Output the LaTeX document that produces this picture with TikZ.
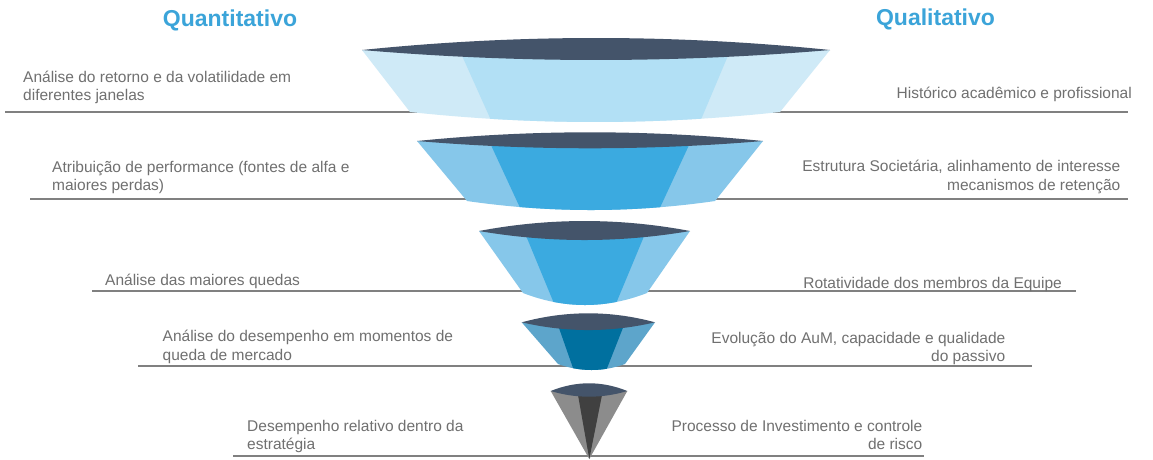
\documentclass[tikz,border=0pt]{standalone}
\usepackage{fontspec}
\setmainfont{Liberation Sans}
\definecolor{lensc}{HTML}{44546A}
\definecolor{fa}{HTML}{CFEAF7}
\definecolor{fac}{HTML}{B2E0F5}
\definecolor{fb}{HTML}{86C7EA}
\definecolor{fbc}{HTML}{3BAAE0}
\definecolor{fd}{HTML}{5DA5CB}
\definecolor{fdc}{HTML}{00709F}
\definecolor{fe}{HTML}{8C8C8C}
\definecolor{fec}{HTML}{404040}
\definecolor{titlec}{RGB}{59,164,217}
\definecolor{txtc}{HTML}{707070}
\definecolor{rulec}{HTML}{808080}
\begin{document}
\begin{tikzpicture}[x=1pt,y=-1pt,
  ttl/.style={font=\fontsize{23}{27}\selectfont\bfseries, text=titlec, inner sep=0pt},
  lbl/.style={font=\fontsize{15.5}{18.5}\selectfont, text=txtc, inner sep=0pt},
  lblL/.style={lbl, anchor=base west, align=left},
  lblR/.style={lbl, anchor=base east, align=right},
  rule/.style={draw=rulec, line width=1.3pt},
  lens/.style={fill=lensc}]
\fill[white] (0,0) rectangle (1153,459);
\useasboundingbox (0,0) rectangle (1153,459);

% titles
\node[ttl, anchor=base] (tq) at (230,26) {Quantitativo};
\node[ttl, anchor=base] (tl) at (935.5,25) {Qualitativo};

% rules
\coordinate (r1a) at (5,112);   \coordinate (r1b) at (1128,112);
\coordinate (r2a) at (30,199);  \coordinate (r2b) at (1128,199);
\coordinate (r3a) at (92,291);  \coordinate (r3b) at (1076,291);
\coordinate (r4a) at (138,366); \coordinate (r4b) at (1032,366);
\coordinate (r5a) at (233,456); \coordinate (r5b) at (924,456);
\draw[rule] (r1a) -- (r1b);
\draw[rule] (r2a) -- (r2b);
\draw[rule] (r3a) -- (r3b);
\draw[rule] (r4a) -- (r4b);
\draw[rule] (r5a) -- (r5b);

% labels left (anchor = baseline of the last line)
\node[lblL] (q1) at (23,100.5) {Análise do retorno e da volatilidade em\\diferentes janelas};
\node[lblL] (q2) at (52,190.5) {Atribuição de performance (fontes de alfa e\\maiores perdas)};
\node[lblL] (q3) at (105,285.5) {Análise das maiores quedas};
\node[lblL] (q4) at (162.5,360) {Análise do desempenho em momentos de\\queda de mercado};
\node[lblL] (q5) at (247,449.5) {Desempenho relativo dentro da\\estratégia};
% labels right
\node[lblR] (s1) at (1132,98) {Histórico acadêmico e profissional};
\node[lblR] (s2) at (1120.5,190) {Estrutura Societária, alinhamento de interesse\\mecanismos de retenção};
\node[lblR] (s3) at (1062,288.5) {Rotatividade dos membros da Equipe};
\node[lblR] (s4) at (1005.5,361.5) {Evolução do AuM, capacidade e qualidade\\do passivo};
\node[lblR] (s5) at (922.5,449.5) {Processo de Investimento e controle\\de risco};

% funnel 1
\fill[fa] (362,50) -- (410,112) .. controls (533.3,125.3) and (656.7,125.3) .. (780,112) -- (830,50) -- cycle;
\begin{scope}
\clip (362,50) -- (410,112) .. controls (533.3,125.3) and (656.7,125.3) .. (780,112) -- (830,50) -- cycle;
\fill[fac] (457.2,45) -- (495.4,130) -- (696.6,130) -- (732.5,45) -- cycle;
\end{scope}
\fill[lens] (362,50) .. controls (518,34) and (674,34) .. (830,50) .. controls (674,63.3) and (518,63.3) .. (362,50) -- cycle;

% funnel 2
\fill[fb] (417,141) -- (467,201) .. controls (549.7,213) and (632.3,213) .. (715,201) -- (763,141) -- cycle;
\begin{scope}
\clip (417,141) -- (467,201) .. controls (549.7,213) and (632.3,213) .. (715,201) -- (763,141) -- cycle;
\fill[fbc] (486.3,135) -- (525.7,220) -- (654.3,220) -- (693.7,135) -- cycle;
\end{scope}
\fill[lens] (417,141) .. controls (532.3,129.4) and (647.7,129.4) .. (763,141) .. controls (647.7,150.7) and (532.3,150.7) .. (417,141) -- cycle;

% funnel 3
\fill[fb] (479,231) -- (523,293) .. controls (564.3,309) and (605.7,309) .. (647,293) -- (690,231) -- cycle;
\begin{scope}
\clip (479,231) -- (523,293) .. controls (564.3,309) and (605.7,309) .. (647,293) -- (690,231) -- cycle;
\fill[fbc] (521.6,225) -- (558.8,315) -- (611.2,315) -- (648.7,225) -- cycle;
\end{scope}
\fill[lens] (479,231) .. controls (549.3,217.7) and (619.7,217.7) .. (690,231) .. controls (619.7,243) and (549.3,243) .. (479,231) -- cycle;

% funnel 4
\fill[fd] (521.7,322.3) -- (558,364) .. controls (580.3,372) and (602.7,372) .. (625,364) -- (655,322.3) -- cycle;
\begin{scope}
\clip (521.7,322.3) -- (558,364) .. controls (580.3,372) and (602.7,372) .. (625,364) -- (655,322.3) -- cycle;
\fill[fdc] (554.8,316) -- (577.2,380) -- (602.4,380) -- (627.6,316) -- cycle;
\end{scope}
\fill[lens] (521.7,322.3) .. controls (566.1,310.3) and (610.6,310.3) .. (655,322.3) .. controls (610.6,332.6) and (566.1,332.6) .. (521.7,322.3) -- cycle;

% funnel 5
\fill[fe] (550.7,391) -- (589.3,459) -- (627.3,391) -- cycle;
\fill[fec] (577.3,391) -- (589.3,459) -- (602.8,391) -- cycle;
\fill[lens] (550.7,391) .. controls (576.2,380.7) and (601.8,380.7) .. (627.3,391) .. controls (601.8,398.6) and (576.2,398.6) .. (550.7,391) -- cycle;
\end{tikzpicture}
\end{document}
